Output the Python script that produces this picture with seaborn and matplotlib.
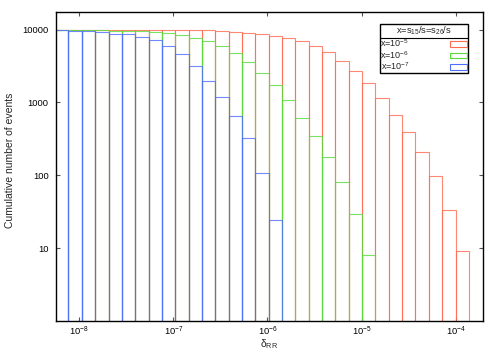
"""Cumulative number of events vs delta_RR for three values of x (gnuplot-style boxes)."""
import matplotlib
matplotlib.use("Agg")
import matplotlib.pyplot as plt
import numpy as np
import pandas as pd
import seaborn as sns
from matplotlib.lines import Line2D
from matplotlib.patches import Patch
from matplotlib.ticker import LogLocator, NullLocator

# log bins in delta_RR (the first bin runs past the left border)
bin_edges = [5.55e-9, 7.69e-9, 1.067e-8, 1.479e-8, 2.05e-8, 2.84e-8, 3.94e-8,
             5.46e-8, 7.57e-8, 1.048e-7, 1.452e-7, 2.01e-7, 2.79e-7, 3.87e-7,
             5.36e-7, 7.43e-7, 1.030e-6, 1.428e-6, 1.98e-6, 2.74e-6, 3.80e-6,
             5.27e-6, 7.31e-6, 1.013e-5, 1.404e-5, 1.946e-5, 2.70e-5, 3.74e-5,
             5.19e-5, 7.19e-5, 9.96e-5, 1.38e-4]

# cumulative counts per bin, starting from the first bin
counts_x1e5 = [10000, 10000, 10000, 10000, 10000, 10000, 9990, 9970, 9950,
               9900, 9880, 9800, 9550, 9300, 9010, 8810, 8270, 7690, 6990,
               5970, 4870, 3710, 2730, 1850, 1150, 671, 387, 210, 98, 33, 9]
counts_x1e6 = [10000, 9980, 9960, 9900, 9700, 9550, 9450, 9300, 8870, 8450,
               7690, 6990, 5890, 4780, 3630, 2540, 1740, 1090, 616, 350, 178,
               82, 29, 8]
counts_x1e7 = [9900, 9690, 9480, 9390, 8730, 8620, 7940, 7130, 5970, 4630,
               3170, 1990, 1190, 650, 323, 108, 24]

series_names = ["x=10$^{-5}$", "x=10$^{-6}$", "x=10$^{-7}$"]
series_colors = ["#ff6a50", "#55dd3a", "#4f6dff"]
legend_title = "x=s$_{15}$/s=s$_{26}$/s"

y_ticks = [10, 100, 1000, 10000]
y_ticklabels = ["10", "100", "1000", "10000"]

sns.set_theme(style="ticks")
plt.rcParams["font.family"] = ["Liberation Sans", "DejaVu Sans"]
plt.rcParams["mathtext.fontset"] = "custom"
plt.rcParams["mathtext.rm"] = "Liberation Sans"
plt.rcParams["mathtext.it"] = "Liberation Sans:italic"

edges = np.array(bin_edges)
rows = []
for name, counts in zip(series_names, [counts_x1e5, counts_x1e6, counts_x1e7]):
    for i, c in enumerate(counts):
        rows.append({"delta": np.sqrt(edges[i] * edges[i + 1]), "count": c, "series": name})
df = pd.DataFrame(rows)

fig = plt.figure(figsize=(5, 3.5), dpi=100)
ax = fig.add_axes([0.111, 0.083, 0.855, 0.884])

# seaborn bins in the log10 space of the data when log_scale is on;
# first hue level ends up on top, so list blue first
sns.histplot(
    data=df, x="delta", weights="count", hue="series",
    hue_order=series_names[::-1],
    bins=list(np.log10(edges)), log_scale=(True, True), element="bars", fill=False,
    palette=dict(zip(series_names, series_colors)), linewidth=0.8, alpha=0.8,
    legend=False, ax=ax,
)

# bars start at 0, which a log axis cannot draw: start them just below the frame
for bar in ax.patches:
    top = bar.get_y() + bar.get_height()
    if top > 0:
        bar.set_y(0.5)
        bar.set_height(top - 0.5)
    else:
        bar.set_visible(False)

ax.set_xlim(5.6e-9, 1.95e-4)
ax.set_ylim(1, 17700)
ax.xaxis.set_major_locator(LogLocator(base=10, numticks=20))
ax.xaxis.set_minor_locator(NullLocator())
ax.set_yticks(y_ticks, labels=y_ticklabels)
ax.yaxis.set_minor_locator(NullLocator())
ax.tick_params(direction="in", top=True, right=True, length=3, width=0.8,
               color="#555555", labelsize=6.7, labelcolor="black")
ax.tick_params(axis="y", pad=5)
ax.tick_params(axis="x", pad=3)
for sp in ax.spines.values():
    sp.set_color("black")
    sp.set_linewidth(1.0)

ax.set_xlabel(r"δ$_{\mathrm{RR}}$", fontsize=7.5)
ax.set_ylabel("Cumulative number of events", fontsize=7.5)
ax.xaxis.set_label_coords(0.5, -0.052)
ax.yaxis.set_label_coords(-0.095, 0.52)

handles = [Patch(facecolor="none", edgecolor=c, linewidth=0.8) for c in series_colors]
leg = ax.legend(
    handles, series_names, title=legend_title, loc="upper right",
    bbox_to_anchor=(0.965, 0.960), borderaxespad=0, fancybox=False,
    edgecolor="black", framealpha=1, markerfirst=False, fontsize=6.5,
    title_fontsize=6.7, handlelength=1.9, handleheight=0.6,
    handletextpad=4.5, borderpad=0.1, labelspacing=0.0,
)
leg.get_frame().set_linewidth(1.0)

# gnuplot draws a rule under the key title
fig.canvas.draw()
inv = fig.transFigure.inverted()
lb = inv.transform(leg.get_window_extent())
tb = inv.transform(leg.get_title().get_window_extent())
y_rule = tb[0, 1] - 0.002
fig.add_artist(Line2D([lb[0, 0], lb[1, 0]], [y_rule, y_rule],
                      transform=fig.transFigure, color="black", linewidth=0.8))

fig.savefig("out.png", dpi=100)
plt.close(fig)
